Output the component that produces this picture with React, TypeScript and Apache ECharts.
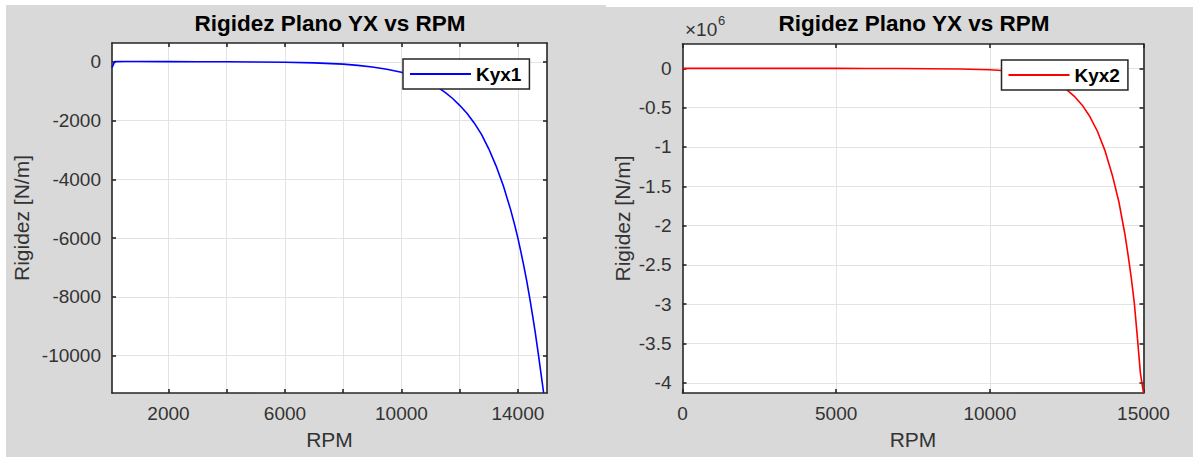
import React, { useEffect, useRef } from "react";
import * as echarts from "echarts";

// ---- data ----
const rpm1 = [60, 150, 500, 1000, 2000, 3000, 4000, 5000, 6000, 7000, 8000, 8500, 9000, 9500, 10000, 10250, 10500, 10750, 11000, 11250, 11500, 11750, 12000, 12250, 12500, 12750, 13000, 13250, 13500, 13750, 13900, 14000, 14100, 14200, 14300, 14400, 14500, 14600, 14700, 14800, 14885];
const kyx1 = [-200, 5, 8, 8, 6, 3, 0, -5, -15, -35, -80, -120, -175, -255, -355, -420, -505, -610, -725, -870, -1040, -1240, -1480, -1750, -2080, -2470, -2960, -3540, -4220, -5030, -5590, -6000, -6450, -6930, -7440, -8000, -8600, -9230, -9930, -10650, -11270];

const rpm2 = [0, 1000, 2000, 3000, 4000, 5000, 6000, 7000, 8000, 9000, 10000, 10500, 11000, 11250, 11500, 11750, 12000, 12250, 12500, 12750, 13000, 13250, 13500, 13750, 14000, 14200, 14400, 14500, 14600, 14700, 14800, 14900, 15000];
const kyx2 = [0, 0, -100, -200, -400, -700, -1200, -2300, -4500, -9000, -18000, -30000, -52000, -68000, -90000, -118000, -155000, -205000, -270000, -355000, -465000, -610000, -800000, -1050000, -1380000, -1700000, -2120000, -2380000, -2660000, -2980000, -3420000, -3880000, -4130000];

const xTicks1 = [2000, 4000, 6000, 8000, 10000, 12000, 14000];
const xLabels1 = [2000, 6000, 10000, 14000];
const yTicks1 = [-10000, -8000, -6000, -4000, -2000, 0];
const xTicks2 = [0, 5000, 10000, 15000];
const yTicks2 = [-4e6, -3.5e6, -3e6, -2.5e6, -2e6, -1.5e6, -1e6, -0.5e6, 0];

const xRange1 = [60, 15000];
const yRange1 = [-11270, 640];
const xRange2 = [0, 15000];
const yRange2 = [-4130000, 310000];

const chartTitle = "Rigidez Plano YX vs RPM";
const xName = "RPM";
const yName = "Rigidez [N/m]";
const seriesNames = ["Kyx1", "Kyx2"];

const FONT = "'Liberation Sans', Arial, Helvetica, sans-serif";
const AX = "#262626";
const TXT = "#333333";
const GRIDC = "#e3e3e3";

function mainAxis(gridIndex: number, range: number[], ticks: number[], labels: number[], extra: any) {
  return {
    type: "value",
    gridIndex,
    min: range[0],
    max: range[1],
    axisLine: { show: true, onZero: false, lineStyle: { color: AX, width: 1.6 } },
    axisTick: { show: true, inside: true, length: 4, customValues: ticks, lineStyle: { color: AX, width: 1.6 } },
    splitLine: { show: true, lineStyle: { color: GRIDC, width: 1 } },
    axisLabel: {
      show: true,
      customValues: labels,
      margin: 11,
      color: TXT,
      fontFamily: FONT,
      fontSize: 19,
      formatter: (v: number) => String(v),
    },
    ...extra,
  };
}

function mirrorAxis(gridIndex: number, range: number[], ticks: number[], position: string) {
  return {
    type: "value",
    gridIndex,
    position,
    min: range[0],
    max: range[1],
    axisLine: { show: true, onZero: false, lineStyle: { color: AX, width: 1.6 } },
    axisTick: { show: true, inside: true, length: 4, customValues: ticks, lineStyle: { color: AX, width: 1.6 } },
    splitLine: { show: false },
    axisLabel: { show: false },
  };
}

function legendFor(name: string, left: number, top: number) {
  return {
    data: [{ name, icon: "rect" }],
    left,
    top,
    orient: "horizontal",
    backgroundColor: "#ffffff",
    borderColor: AX,
    borderWidth: 1.5,
    borderRadius: 0,
    padding: [5, 8, 5, 7],
    itemWidth: 61,
    itemHeight: 2,
    textStyle: { color: "#000", fontFamily: FONT, fontSize: 19, fontWeight: "bold", lineHeight: 20 },
  };
}

export default function App() {
  const ref = useRef<HTMLDivElement>(null);

  useEffect(() => {
    if (!ref.current) return;
    const chart = echarts.init(ref.current, undefined, { renderer: "svg" });
    const nameStyle = { color: TXT, fontFamily: FONT, fontSize: 21 };

    const option: any = {
      animation: false,
      backgroundColor: "#ffffff",
      graphic: [
        { type: "rect", z: -10, shape: { x: 6, y: 5, width: 600, height: 452 }, style: { fill: "#d9d9d9" } },
        { type: "rect", z: -10, shape: { x: 600, y: 7, width: 593, height: 450 }, style: { fill: "#d9d9d9" } },
        {
          type: "text", x: 330, y: 23,
          style: { text: chartTitle, align: "center", verticalAlign: "middle", fill: "#000", font: `bold 22.5px ${FONT}` },
        },
        {
          type: "text", x: 914, y: 23,
          style: { text: chartTitle, align: "center", verticalAlign: "middle", fill: "#000", font: `bold 22.5px ${FONT}` },
        },
        {
          type: "text", x: 685, y: 29,
          style: { text: "×10", align: "left", verticalAlign: "middle", fill: TXT, font: `19px ${FONT}` },
        },
        {
          type: "text", x: 718, y: 20,
          style: { text: "6", align: "left", verticalAlign: "middle", fill: TXT, font: `13px ${FONT}` },
        },
      ],
      grid: [
        { left: 112, top: 43, width: 435, height: 350, show: true, backgroundColor: "#ffffff", borderWidth: 0 },
        { left: 682.5, top: 44, width: 461, height: 349, show: true, backgroundColor: "#ffffff", borderWidth: 0 },
      ],
      xAxis: [
        mainAxis(0, xRange1, xTicks1, xLabels1, {
          position: "bottom", name: xName, nameLocation: "middle", nameGap: 36, nameTextStyle: nameStyle,
        }),
        mirrorAxis(0, xRange1, xTicks1, "top"),
        mainAxis(1, xRange2, xTicks2, xTicks2, {
          position: "bottom", name: xName, nameLocation: "middle", nameGap: 36, nameTextStyle: nameStyle,
        }),
        mirrorAxis(1, xRange2, xTicks2, "top"),
      ],
      yAxis: [
        mainAxis(0, yRange1, yTicks1, yTicks1, {
          position: "left", name: yName, nameLocation: "middle", nameGap: 80, nameTextStyle: nameStyle,
        }),
        mirrorAxis(0, yRange1, yTicks1, "right"),
        (() => {
          const a: any = mainAxis(1, yRange2, yTicks2, yTicks2, {
            position: "left", name: yName, nameLocation: "middle", nameGap: 50, nameTextStyle: nameStyle,
          });
          a.axisLabel.formatter = (v: number) => String(Math.round((v / 1e6) * 10) / 10);
          return a;
        })(),
        mirrorAxis(1, yRange2, yTicks2, "right"),
      ],
      legend: [legendFor(seriesNames[0], 403, 59), legendFor(seriesNames[1], 1001.5, 60)],
      series: [
        {
          name: seriesNames[0], type: "line", xAxisIndex: 0, yAxisIndex: 0,
          data: rpm1.map((r, i) => [r, kyx1[i]]),
          symbol: "none", smooth: false,
          lineStyle: { color: "#0000ff", width: 1.6 }, itemStyle: { color: "#0000ff" },
        },
        {
          name: seriesNames[1], type: "line", xAxisIndex: 2, yAxisIndex: 2,
          data: rpm2.map((r, i) => [r, kyx2[i]]),
          symbol: "none", smooth: false,
          lineStyle: { color: "#ff0000", width: 1.6 }, itemStyle: { color: "#ff0000" },
        },
      ],
    };
    chart.setOption(option);
    return () => chart.dispose();
  }, []);

  return (
    <div
      ref={ref}
      style={{ position: "fixed", left: 0, top: 0, width: 1193, height: 457 }}
    />
  );
}
